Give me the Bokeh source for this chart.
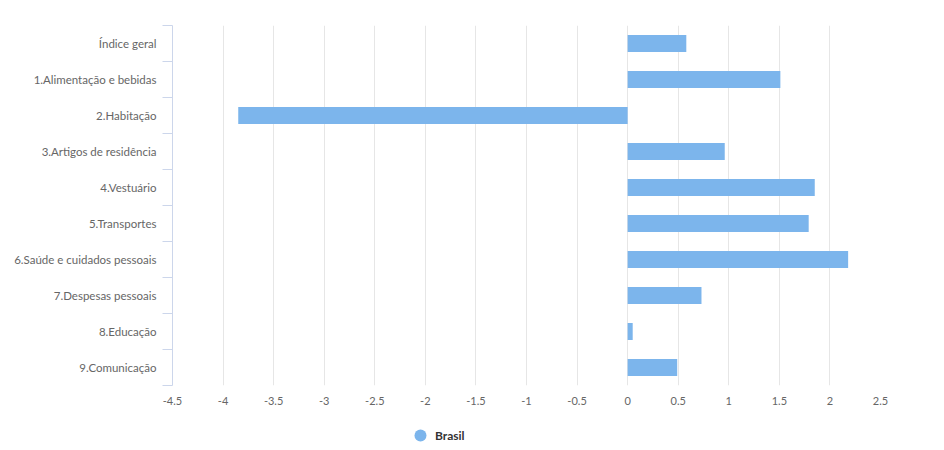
from bokeh.plotting import figure
from bokeh.layouts import column
from bokeh.models import ColumnDataSource, FixedTicker, Range1d, Legend, LegendItem
from bokeh.embed import file_html
from bokeh.resources import INLINE

categories = [
    "Índice geral",
    "1.Alimentação e bebidas",
    "2.Habitação",
    "3.Artigos de residência",
    "4.Vestuário",
    "5.Transportes",
    "6.Saúde e cuidados pessoais",
    "7.Despesas pessoais",
    "8.Educação",
    "9.Comunicação",
]
values = [0.58, 1.51, -3.85, 0.96, 1.85, 1.79, 2.18, 0.73, 0.05, 0.49]
x_ticks = [-4.5, -4, -3.5, -3, -2.5, -2, -1.5, -1, -0.5, 0, 0.5, 1, 1.5, 2, 2.5]
x_tick_labels = ["-4.5", "-4", "-3.5", "-3", "-2.5", "-2", "-1.5", "-1", "-0.5",
                 "0", "0.5", "1", "1.5", "2", "2.5"]
series_name = "Brasil"

BAR = "#7cb5ec"
FONT = "Lato"

n = len(categories)
ypos = [n - i - 0.5 for i in range(n)]
src = ColumnDataSource(data=dict(y=ypos, value=values, cat=categories))

p = figure(
    frame_width=708, frame_height=360,
    min_border_left=172, min_border_top=25, min_border_right=56, min_border_bottom=30,
    x_range=Range1d(x_ticks[0], x_ticks[-1]), y_range=Range1d(0, n),
    output_backend="svg", toolbar_location=None,
)
p.outline_line_color = None
p.background_fill_color = "white"
p.border_fill_color = "white"

p.hbar(y="y", left=0, right="value", height=0.47, source=src,
       fill_color=BAR, line_color=None)

# x axis
p.xaxis.ticker = FixedTicker(ticks=x_ticks)
p.xaxis.major_label_overrides = {t: l for t, l in zip(x_ticks, x_tick_labels)}
p.xaxis.axis_line_color = None
p.xaxis.major_tick_line_color = None
p.xaxis.minor_tick_line_color = None
p.xaxis.major_tick_out = 0
p.xaxis.major_tick_in = 0
p.xaxis.major_label_standoff = 11
p.xaxis.major_label_text_font = FONT
p.xaxis.major_label_text_font_size = "11px"
p.xaxis.major_label_text_color = "#666666"

p.xgrid.ticker = FixedTicker(ticks=x_ticks)
p.xgrid.grid_line_color = "#e6e6e6"
p.ygrid.visible = False

# y axis
p.yaxis.ticker = FixedTicker(ticks=ypos, minor_ticks=list(range(n + 1)))
p.yaxis.major_label_overrides = {y: c for y, c in zip(ypos, categories)}
p.yaxis.axis_line_color = "#ccd6eb"
p.yaxis.major_tick_line_color = None
p.yaxis.major_tick_out = 0
p.yaxis.major_tick_in = 0
p.yaxis.minor_tick_line_color = "#ccd6eb"
p.yaxis.minor_tick_out = 10
p.yaxis.minor_tick_in = 0
p.yaxis.major_label_standoff = 6
p.yaxis.major_label_text_font = FONT
p.yaxis.major_label_text_font_size = "11.5px"
p.yaxis.major_label_text_color = "#666666"

# legend in a small strip below the chart
lf = figure(
    frame_width=708, frame_height=30,
    min_border_left=172, min_border_top=5, min_border_right=56, min_border_bottom=0,
    x_range=Range1d(0, 1), y_range=Range1d(0, 1),
    x_axis_location=None, y_axis_location=None,
    output_backend="svg", toolbar_location=None,
)
lf.outline_line_color = None
lf.xgrid.visible = False
lf.ygrid.visible = False
lf.background_fill_color = "white"
lf.border_fill_color = "white"

# legend proxy: one point kept outside the strip's visible range
proxy_src = ColumnDataSource(data=dict(x=[-5], y=[-5]))
proxy = lf.scatter(x="x", y="y", source=proxy_src, marker="circle", size=12,
                   fill_color=BAR, line_color=None)
legend = Legend(
    items=[LegendItem(label=series_name, renderers=[proxy], index=0)],
    location=(233, 0), orientation="horizontal",
    padding=0, margin=0, spacing=0,
    glyph_width=30, glyph_height=30, label_standoff=-1,
    border_line_color=None, background_fill_alpha=0,
    label_text_font=FONT, label_text_font_style="bold",
    label_text_font_size="12px", label_text_color="#333333",
)
lf.add_layout(legend, "center")

layout = column(p, lf, spacing=0)
open("out.html", "w").write(file_html(layout, INLINE))
